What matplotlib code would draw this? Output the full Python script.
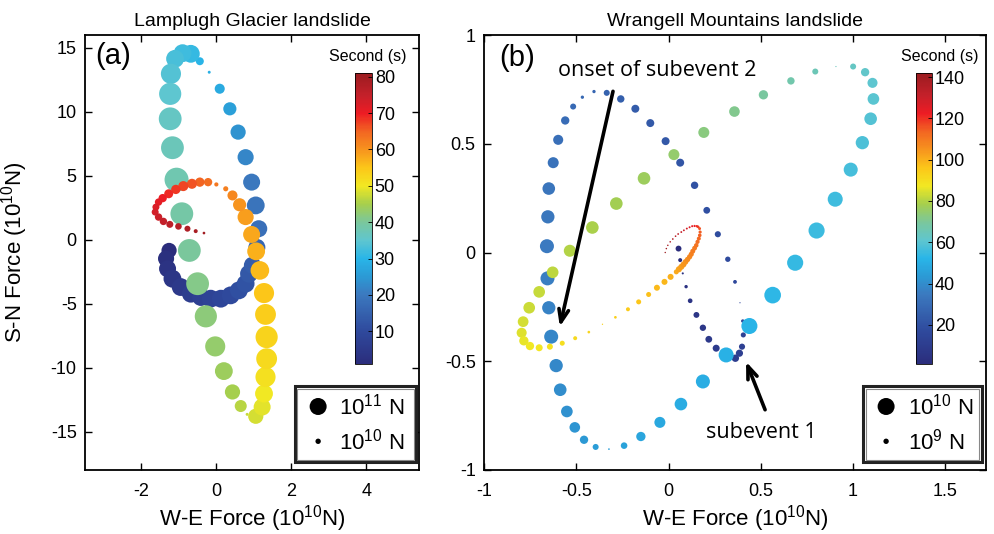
import numpy as np
import matplotlib
matplotlib.use("Agg")
import matplotlib.pyplot as plt
from matplotlib.colors import LinearSegmentedColormap, Normalize
from matplotlib.patches import Rectangle

plt.rcParams['font.family'] = ['Liberation Sans', 'DejaVu Sans']
plt.rcParams['mathtext.fontset'] = 'custom'
plt.rcParams['mathtext.rm'] = 'Liberation Sans'
plt.rcParams['mathtext.it'] = 'Liberation Sans'
plt.rcParams['mathtext.bf'] = 'Liberation Sans'

# ---------------- Panel (a): Lamplugh Glacier (units 1e10 N) ----------------
a_we = [-1.26, -1.34, -1.30, -1.17, -0.95, -0.68, -0.41, -0.15, 0.12, 0.38, 0.60, 0.78, 0.87, 0.96, 1.08,
        1.13, 1.05, 0.94, 0.78, 0.58, 0.36, 0.09, -0.19, -0.44,
        -0.68, -0.90, -1.10, -1.21, -1.23, -1.23, -1.17, -1.06, -0.92, -0.72, -0.50, -0.28, -0.03, 0.20, 0.43,
        0.65, 0.82, 1.05, 1.22, 1.27, 1.31, 1.34, 1.34, 1.31, 1.27, 1.16, 1.06, 0.94, 0.78, 0.62, 0.43, 0.25, 0.00,
        -0.22, -0.44, -0.65, -0.88, -1.08, -1.27, -1.43, -1.54, -1.61, -1.63, -1.54, -1.41, -1.24, -1.01, -0.77,
        -0.55, -0.33]
a_sn = [-0.84, -1.48, -2.27, -3.05, -3.70, -4.22, -4.48, -4.61, -4.61, -4.35, -3.96, -3.44, -2.66, -2.00, -0.60,
        0.86, 2.68, 4.50, 6.45, 8.41, 10.23, 11.80, 13.09, 13.95,
        14.53, 14.58, 14.14, 12.97, 11.40, 9.45, 7.19, 4.69, 2.03, -0.84, -3.44, -5.99, -8.34, -10.27, -11.90,
        -13.00, -13.65, -13.80, -13.08, -12.03, -10.73, -9.30, -7.61, -5.84, -4.17, -2.40, -0.91, 0.41, 1.77, 2.73,
        3.46, 3.98, 4.32,
        4.50, 4.50, 4.37, 4.19, 3.93, 3.59, 3.25, 2.94, 2.55, 2.16, 1.77, 1.43, 1.20, 1.04, 0.86, 0.67, 0.52]
a_amp = [8, 9, 10, 11, 11, 11, 11, 11, 11, 11, 11, 11, 11, 10, 10,
         10, 11, 10, 9, 8, 6, 3.5, 0.3, 2.2,
         11, 11, 11, 14, 17, 18, 18, 20, 18, 18, 18, 17, 14, 11, 8,
         5, 0.3, 8, 10, 11, 14, 15, 17, 15, 14, 12, 11, 10, 9, 6, 3.5, 0.9, 0.6,
         2.4, 3.0, 3.5, 3.5, 3.0, 2.8, 2.4, 1.9, 1.7, 1.7, 1.9, 1.9, 1.7, 1.5, 1.25, 0.55, 0.25]
a_time = [1, 2, 3, 4, 5, 6, 7, 8, 9, 10, 11, 12, 13, 14, 16,
          18, 19, 20, 22, 24, 26, 28, 29, 30,
          31, 32, 33, 34, 35, 36, 37, 38, 39, 40, 41, 42, 43, 44, 45,
          46, 47, 48, 49, 50, 51, 52, 53, 54, 55, 56, 57, 58, 59, 60, 61, 62, 63,
          64, 65, 66, 67, 68, 69, 70, 71, 72, 73, 74, 75, 76, 77, 78, 79, 80]

# ---------------- Panel (b): Wrangell Mountains (x,y in 1e10 N, amp in 1e9 N) ----------------
b_we = [0.054, 0.063, 0.077, 0.095, 0.117, 0.151, 0.186, 0.218, 0.258, 0.362,
        0.384, 0.398, 0.405, 0.402, 0.387, 0.360, 0.321, 0.267, 0.207, 0.141, 0.063, -0.016, -0.099, -0.180,
        -0.259, -0.335, -0.404,
        -0.467, -0.517, -0.560, -0.598, -0.625, -0.649, -0.654, -0.659, -0.656, -0.649, -0.636,
        -0.609, -0.587, -0.551, -0.508, -0.458, -0.395, -0.323, -0.241, -0.150, -0.047, 0.067,
        0.186, 0.312, 0.438, 0.564, 0.686, 0.802, 0.903, 0.987, 1.050, 1.095, 1.110, 1.105, 1.065, 1.000, 0.907,
        0.795, 0.663, 0.514, 0.357, 0.191, 0.029, -0.133, -0.283, -0.413, -0.535, -0.628, -0.701, -0.755, -0.788,
        -0.796, -0.784, -0.751, -0.701, -0.643, -0.576, -0.506, -0.432, -0.358, -0.288, -0.220, -0.162, -0.108,
        -0.063, -0.022, 0.011, 0.042,
        0.056, 0.069, 0.081, 0.092, 0.103, 0.114, 0.123, 0.131, 0.141, 0.150, 0.157, 0.164, 0.169, 0.171, 0.168,
        0.160, 0.153, 0.141, 0.128, 0.114, 0.099, 0.083, 0.069, 0.052, 0.038, 0.023, 0.009, -0.004, -0.012, -0.018]
b_sn = [0.018, -0.035, -0.096, -0.157, -0.222, -0.287, -0.346, -0.399, -0.440, -0.486,
        -0.463, -0.433, -0.379, -0.315, -0.231, -0.135, -0.031, 0.084, 0.194, 0.309, 0.413, 0.512, 0.595, 0.661,
        0.706, 0.734, 0.740,
        0.714, 0.671, 0.607, 0.518, 0.413, 0.294, 0.164, 0.029, -0.119, -0.254, -0.387,
        -0.520, -0.631, -0.731, -0.804, -0.861, -0.894, -0.904, -0.888, -0.846, -0.781, -0.697,
        -0.593, -0.471, -0.338, -0.196, -0.047, 0.101, 0.245, 0.381, 0.505, 0.615, 0.706, 0.780, 0.829, 0.855,
        0.855,
        0.832, 0.789, 0.725, 0.648, 0.552, 0.450, 0.341, 0.225, 0.115, 0.008, -0.091, -0.181, -0.254, -0.318,
        -0.369, -0.406, -0.430, -0.438, -0.433, -0.417, -0.394, -0.366, -0.330, -0.298, -0.261, -0.227, -0.193,
        -0.162, -0.135, -0.112, -0.089,
        -0.077, -0.066, -0.055, -0.043, -0.032, -0.020, -0.008, 0.006, 0.020, 0.033, 0.049, 0.064, 0.079, 0.094,
        0.110,
        0.118, 0.121, 0.122, 0.121, 0.116, 0.110, 0.102, 0.094, 0.085, 0.075, 0.062, 0.049, 0.033, 0.018, 0.000]
b_amp = [1.2, 0.55, 0.15, 0.4, 0.75, 1.2, 1.4, 1.6, 1.7, 1.9,
         1.8, 1.3, 0.9, 0.4, 0.05, 0.5, 1.0, 1.3, 1.6, 1.9, 2.2, 2.2, 2.2, 2.2,
         1.9, 1.25, 0.38,
         0.38, 1.25, 2.4, 3.5, 4.2, 5.5, 6.1, 6.8, 6.8, 6.1, 6.8,
         6.1, 5.5, 4.7, 3.9, 2.4, 1.25, 0.1, 1.5, 3.0, 4.2, 5.5,
         6.8, 7.8, 8.9, 9.6, 9.0, 9.0, 7.8, 6.8, 6.1, 5.5, 4.7, 3.5, 2.4, 1.25, 0.05,
         1.25, 1.9, 3.0, 3.9, 4.2, 4.2, 5.5, 5.5, 5.5, 5.0, 4.7, 4.7, 4.7, 4.0,
         3.5, 3.0, 2.4, 1.7, 1.25, 0.87, 0.55, 0.25, 0.06, 0.25, 0.55, 0.87, 0.87,
         1.25, 1.25, 1.25, 0.87,
         1.3, 1.25, 1.2, 1.1, 1.0, 0.95, 0.9, 0.85, 0.8, 0.7, 0.6, 0.55, 0.45, 0.35, 0.3,
         0.25, 0.2, 0.17, 0.15, 0.14, 0.13, 0.12, 0.12, 0.11, 0.1, 0.1, 0.09, 0.08, 0.08, 0.07]
b_time = [1, 2, 3, 4, 5, 6, 7, 8, 9, 10,
          11, 12, 13, 14, 15, 16, 17, 18, 19, 20, 21, 22, 23, 24,
          25, 26, 27,
          28, 29, 30, 31, 32, 33, 34, 35, 36, 37, 38,
          39, 40, 41, 42, 43, 44, 45, 46, 47, 48, 49,
          50, 51, 52, 53, 54, 55, 56, 57, 58, 59, 60, 61, 62, 63, 64,
          65, 67, 69, 71, 73, 75, 77, 78, 79, 80, 81, 82, 83, 84,
          85, 86, 87, 88, 89, 90, 91, 92, 93, 94, 95, 96, 97,
          98, 99, 100, 101,
          102, 103, 104, 105, 106, 107, 108, 109, 110, 111, 112, 113, 114, 115, 116,
          118, 120, 122, 124, 126, 128, 130, 131, 133, 134, 136, 137, 139, 140, 142]

a_xticks = [-2, 0, 2, 4]
a_yticks = [-15, -10, -5, 0, 5, 10, 15]
b_xticks = [-1, -0.5, 0, 0.5, 1, 1.5]
b_xticklabels = ['-1', '-0.5', '0', '0.5', '1', '1.5']
b_yticks = [-1, -0.5, 0, 0.5, 1]
b_yticklabels = ['-1', '-0.5', '0', '0.5', '1']
a_cticks = [10, 20, 30, 40, 50, 60, 70, 80]
b_cticks = [20, 40, 60, 80, 100, 120, 140]

# ---------------- colormap ----------------
cm_pos = [0.0, 0.1125, 0.2375, 0.3, 0.3625, 0.425, 0.4875, 0.55, 0.6125, 0.675, 0.7375, 0.8, 0.8625, 0.925, 1.0]
cm_col = ['#2b2d7c', '#2f4a9d', '#3b79bf', '#2b9ad5', '#29b5e8', '#5fc6cf', '#7bc79b', '#a6cf4d',
          '#f2e822', '#fcc619', '#f7941e', '#f26522', '#ed1c24', '#c4202a', '#9b1c20']
cmap = LinearSegmentedColormap.from_list('landslide', list(zip(cm_pos, cm_col)))

W, H = 995, 534
fig = plt.figure(figsize=(W / 100, H / 100), dpi=100)

NARROW = ['Liberation Sans Narrow', 'Liberation Sans', 'DejaVu Sans']


def fbox(x0, y0, x1, y1):
    return [x0 / W, 1 - y1 / H, (x1 - x0) / W, (y1 - y0) / H]


def area(amp):
    # marker area: 10 units -> 17 px diameter
    return 14.98 * np.asarray(amp, dtype=float)


ax_a = fig.add_axes(fbox(85, 35, 419, 470))
ax_b = fig.add_axes(fbox(484, 35, 986, 470))

norm_a = Normalize(1, 81)
norm_b = Normalize(1, 142)
sc_a = ax_a.scatter(a_we, a_sn, s=area(a_amp), c=a_time, cmap=cmap, norm=norm_a, linewidths=0, zorder=2)
sc_b = ax_b.scatter(b_we, b_sn, s=area(b_amp), c=b_time, cmap=cmap, norm=norm_b, linewidths=0, zorder=2)

for ax in (ax_a, ax_b):
    ax.tick_params(direction='in', top=True, right=True, length=5, width=1.0, labelsize=13)
    ax.tick_params(axis='x', pad=9)
    ax.tick_params(axis='y', pad=6)
    for sp in ax.spines.values():
        sp.set_linewidth(1.3)

ax_a.set_xlim(-3.5, 5.4)
ax_a.set_ylim(-18, 16)
ax_a.set_xticks(a_xticks)
ax_a.set_xticklabels([str(v) for v in a_xticks])
ax_a.set_yticks(a_yticks)
ax_a.set_yticklabels([str(v) for v in a_yticks])

ax_b.set_xlim(-1, 1.72)
ax_b.set_ylim(-1, 1)
ax_b.set_xticks(b_xticks)
ax_b.set_xticklabels(b_xticklabels)
ax_b.set_yticks(b_yticks)
ax_b.set_yticklabels(b_yticklabels)

ax_a.set_xlabel('W-E Force (10$^{10}$N)', fontsize=16)
ax_b.set_xlabel('W-E Force (10$^{10}$N)', fontsize=16)
ax_a.set_ylabel('S-N Force (10$^{10}$N)', fontsize=16)
ax_a.xaxis.set_label_coords(0.5, -0.076)
ax_b.xaxis.set_label_coords(0.5, -0.076)
ax_a.yaxis.set_label_coords(-0.165, 0.5)

fig.text(252 / W, 1 - 22 / H, 'Lamplugh Glacier landslide', ha='center', va='center', fontsize=14,
         family=NARROW)
fig.text(735 / W, 1 - 22 / H, 'Wrangell Mountains landslide', ha='center', va='center', fontsize=14,
         family=NARROW)

ax_a.text(0.030, 0.952, '(a)', transform=ax_a.transAxes, fontsize=21, va='center', ha='left')
ax_b.text(0.030, 0.947, '(b)', transform=ax_b.transAxes, fontsize=21, va='center', ha='left')

# colorbars inside the axes
for sc, box, ticks, tx in ((sc_a, (355, 73, 372, 364), a_cticks, 368),
                           (sc_b, (916, 73, 932, 364), b_cticks, 940)):
    cax = fig.add_axes(fbox(*box))
    cb = fig.colorbar(sc, cax=cax, ticks=ticks)
    cb.outline.set_linewidth(0.6)
    cax.tick_params(direction='in', length=3, width=0.6, labelsize=13, pad=2)
    cax.set_yticklabels([str(t) for t in ticks])
    fig.text(tx / W, 1 - 57 / H, 'Second (s)', ha='center', va='center', fontsize=11.5)

# size legends
for ax, (x0, x1), mx, tx, labs in ((ax_a, (0.629, 0.991), 0.698, 0.760, ('10$^{11}$ N', '10$^{10}$ N')),
                                    (ax_b, (0.755, 0.992), 0.801, 0.845, ('10$^{10}$ N', '10$^{9}$ N'))):
    ax.add_patch(Rectangle((x0, 0.018), x1 - x0, 0.175, transform=ax.transAxes, fill=True,
                           facecolor='white', edgecolor='#222222', lw=2.2, zorder=4))
    ax.add_patch(Rectangle((x0 + 0.006, 0.024), x1 - x0 - 0.012, 0.163, transform=ax.transAxes, fill=False,
                           edgecolor='#888888', lw=0.8, zorder=4))
    ax.scatter([mx, mx], [0.146, 0.066], s=area([10, 1]), c='k', linewidths=0,
               transform=ax.transAxes, zorder=5)
    ax.text(tx, 0.146, labs[0], transform=ax.transAxes, fontsize=16, va='center', ha='left', zorder=6)
    ax.text(tx, 0.066, labs[1], transform=ax.transAxes, fontsize=16, va='center', ha='left', zorder=6)

# annotations
arrow_kw = dict(arrowstyle='->,head_length=0.9,head_width=0.35', lw=2.6, color='k', shrinkA=0, shrinkB=0)
ax_b.annotate('', xy=(-0.589, -0.341), xytext=(-0.301, 0.741), arrowprops=arrow_kw, zorder=6)
ax_b.annotate('', xy=(0.420, -0.502), xytext=(0.523, -0.723), arrowprops=arrow_kw, zorder=6)
ax_b.text(-0.60, 0.836, 'onset of subevent 2', fontsize=15.5, ha='left', va='center',
          family=['Open Sans', 'DejaVu Sans'])
ax_b.text(0.204, -0.829, 'subevent 1', fontsize=15.5, ha='left', va='center',
          family=['Open Sans', 'DejaVu Sans'])

fig.savefig('out.png', dpi=100)
